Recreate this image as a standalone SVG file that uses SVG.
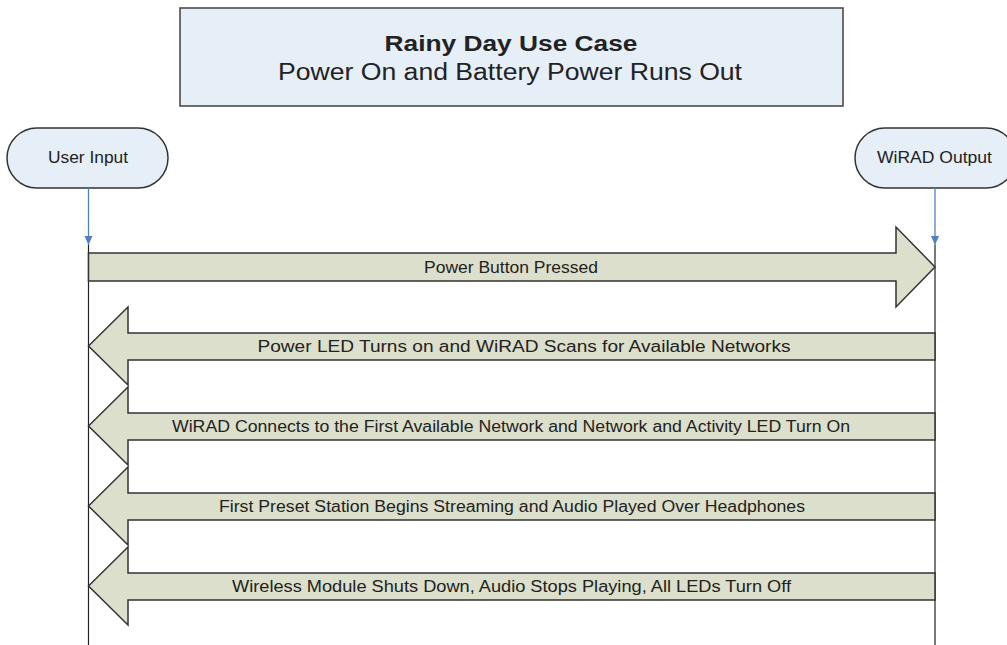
<svg xmlns="http://www.w3.org/2000/svg" width="1007" height="645" viewBox="0 0 1007 645">
<style>
  text { font-family: "Liberation Sans", Arial, sans-serif; fill: #222; }
  .node { fill: #E6EEF8; stroke: #333; stroke-width: 1.5; }
  .msg { fill: #DCDFCB; stroke: #333; stroke-width: 1.5; stroke-linejoin: miter; }
  .life { stroke: #222; stroke-width: 1.2; fill: none; }
  .blue { stroke: #4F81BD; stroke-width: 1.3; fill: none; }
  .lbl { font-size: 16px; text-anchor: middle; }
  .nlbl { font-size: 16px; text-anchor: middle; }
</style>
<defs>
  <marker id="bh" markerWidth="10" markerHeight="10" refX="9" refY="5" orient="auto" markerUnits="userSpaceOnUse">
    <path d="M0,1 L9,5 L0,9 Z" fill="#4F81BD"/>
  </marker>
</defs>
<rect width="1007" height="645" fill="#fff"/>

<g id="title">
  <rect x="180" y="8" width="663" height="98" fill="#E6EEF8" stroke="#404040" stroke-width="1.5"/>
  <text x="511" y="51" font-size="22" font-weight="bold" text-anchor="middle" textLength="253" lengthAdjust="spacingAndGlyphs">Rainy Day Use Case</text>
  <text x="510" y="80" font-size="23" text-anchor="middle" textLength="464" lengthAdjust="spacingAndGlyphs">Power On and Battery Power Runs Out</text>
</g>

<g id="user-input">
  <rect class="node" x="7" y="128" width="161" height="60" rx="30" ry="30"/>
  <text class="nlbl" x="88" y="163" textLength="80" lengthAdjust="spacingAndGlyphs">User Input</text>
</g>

<g id="wirad-output">
  <rect class="node" x="855" y="128" width="161" height="60" rx="30" ry="30"/>
  <text class="nlbl" x="934.5" y="163" textLength="115" lengthAdjust="spacingAndGlyphs">WiRAD Output</text>
</g>

<g id="connectors">
  <line class="blue" x1="88.5" y1="188" x2="88.5" y2="245" marker-end="url(#bh)"/>
  <line class="blue" x1="935" y1="188" x2="935" y2="245" marker-end="url(#bh)"/>
  <line class="life" x1="88.5" y1="245" x2="88.5" y2="645"/>
  <line class="life" x1="935" y1="245" x2="935" y2="645"/>

  <g id="msg1">
    <polygon class="msg" points="88.5,253 896,253 896,227 935,267 896,307 896,281 88.5,281"/>
    <text class="lbl" x="511" y="272.5" textLength="174" lengthAdjust="spacingAndGlyphs">Power Button Pressed</text>
  </g>
  <g id="msg2">
    <polygon class="msg" points="88.5,346 128,307 128,333 935,333 935,360 128,360 128,385"/>
    <text class="lbl" x="524" y="352" textLength="533" lengthAdjust="spacingAndGlyphs">Power LED Turns on and WiRAD Scans for Available Networks</text>
  </g>
  <g id="msg3">
    <polygon class="msg" points="88.5,426 128,387 128,413 935,413 935,440 128,440 128,465"/>
    <text class="lbl" x="511" y="432" textLength="678" lengthAdjust="spacingAndGlyphs">WiRAD Connects to the First Available Network and Network and Activity LED Turn On</text>
  </g>
  <g id="msg4">
    <polygon class="msg" points="88.5,506 128,467 128,493 935,493 935,520 128,520 128,545"/>
    <text class="lbl" x="512" y="512" textLength="586" lengthAdjust="spacingAndGlyphs">First Preset Station Begins Streaming and Audio Played Over Headphones</text>
  </g>
  <g id="msg5">
    <polygon class="msg" points="88.5,586 128,547 128,573 935,573 935,600 128,600 128,625"/>
    <text class="lbl" x="511.5" y="592" textLength="559" lengthAdjust="spacingAndGlyphs">Wireless Module Shuts Down, Audio Stops Playing, All LEDs Turn Off</text>
  </g>
</g>
</svg>
